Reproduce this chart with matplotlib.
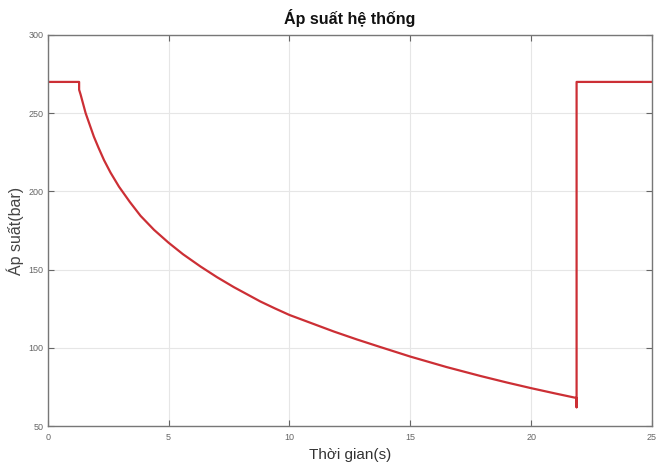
import matplotlib
matplotlib.use("Agg")
import matplotlib.pyplot as plt

# Data
time_s = [0.0, 1.30, 1.30, 1.36, 1.57, 1.91, 2.10, 2.33, 2.60, 2.95, 3.40, 3.84, 4.40,
          5.00, 5.60, 6.32, 7.00, 7.70, 8.80, 9.40, 10.00, 11.84, 12.80, 13.76,
          15.00, 16.50, 17.90, 19.00, 20.00, 21.00, 21.88, 21.88, 21.88, 25.0]
pressure_bar = [270, 270, 265, 262, 250, 235, 228, 220, 212, 203, 193.2, 184.4, 175.4,
                167.2, 159.8, 152, 145.2, 138.8, 129.6, 125.2, 121, 110.4, 105.3, 100.5,
                94.4, 87.7, 82.0, 77.8, 74.2, 70.8, 67.9, 62, 270, 270]

title = "Áp suất hệ thống"
xlabel = "Thời gian(s)"
ylabel = "Áp suất(bar)"
xticks = [0, 5, 10, 15, 20, 25]
yticks = [50, 100, 150, 200, 250, 300]

plt.rcParams['font.family'] = ['Liberation Sans', 'DejaVu Sans']

fig = plt.figure(figsize=(6.69, 4.71), dpi=100)
ax = fig.add_axes([0.0713, 0.0955, 0.9033, 0.8302])

ax.plot(time_s, pressure_bar, color='#cc2f35', linewidth=1.6, solid_joinstyle='round')

ax.set_xlim(0, 25)
ax.set_ylim(50, 300)
ax.set_xticks(xticks)
ax.set_yticks(yticks)
ax.tick_params(direction='in', length=4, width=0.8, color='#666666',
               labelsize=6.5, labelcolor='#666666', top=True, right=True, pad=3)
ax.tick_params(axis='x', pad=5)
ax.grid(True, color='#e6e6e6', linewidth=0.8)
for s in ax.spines.values():
    s.set_color('#777777')
    s.set_linewidth(1.0)

ax.set_title(title, fontsize=11.5, fontweight='bold', color='#111111', pad=8)
ax.set_xlabel(xlabel, fontsize=11, color='#333333', labelpad=4)
ax.set_ylabel(ylabel, fontsize=11.5, color='#444444', labelpad=3)

fig.savefig("out.png", dpi=100)
